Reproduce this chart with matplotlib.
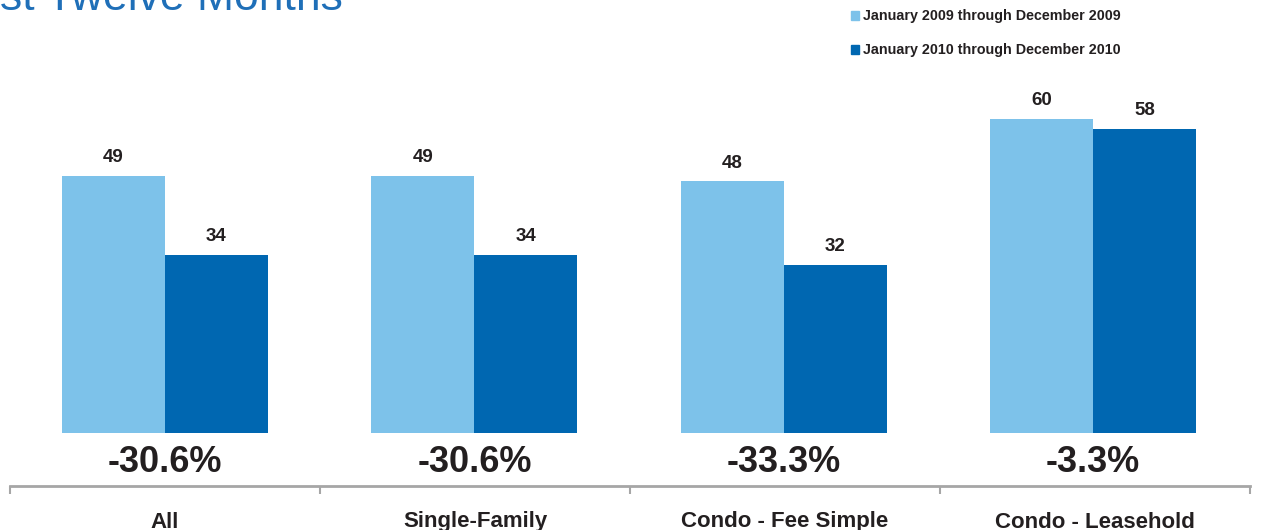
import matplotlib
matplotlib.use("Agg")
import matplotlib.pyplot as plt
from matplotlib.patches import Patch
from matplotlib import font_manager

categories = ["All", "Single-Family", "Condo - Fee Simple", "Condo - Leasehold"]
series_names = ["January 2009 through December 2009", "January 2010 through December 2010"]
values_2009 = [49, 49, 48, 60]
values_2010 = [34, 34, 32, 58]
pct_change = ["-30.6%", "-30.6%", "-33.3%", "-3.3%"]
title_text = "st Twelve Months"

light = "#7DC2EA"
dark = "#0067B1"
txt = "#231F20"
grey = "#A6A6A6"

names = {f.name for f in font_manager.fontManager.ttflist}
narrow = "Liberation Sans Narrow" if "Liberation Sans Narrow" in names else "Liberation Sans"
regular = "Liberation Sans"

W, H = 1261, 530
fig = plt.figure(figsize=(W / 100, H / 100), dpi=100)
ax = fig.add_axes([10 / W, 0, 1240 / W, 1])
pxu = 5.24
base_px = 97
ax.set_xlim(0, 4)
ax.set_ylim(-base_px / pxu, (H - base_px) / pxu)

def py(px_from_top):
    return ((H - px_from_top) - base_px) / pxu

bw = 0.332
xs = [i * 0.998 + 0.5 for i in range(len(categories))]
ax.bar([x - bw / 2 for x in xs], values_2009, width=bw, color=light, label=series_names[0])
ax.bar([x + bw / 2 for x in xs], values_2010, width=bw, color=dark, label=series_names[1])

for x, v in zip(xs, values_2009):
    ax.text(x - bw / 2, v + 1.9, f"{v}", ha="center", va="bottom", fontsize=13.5,
            fontweight="bold", color=txt, family=regular)
for x, v in zip(xs, values_2010):
    ax.text(x + bw / 2, v + 1.9, f"{v}", ha="center", va="bottom", fontsize=13.5,
            fontweight="bold", color=txt, family=regular)

for x, p in zip(xs, pct_change):
    ax.text(x, py(463), p, ha="center", va="center", fontsize=26,
            fontweight="bold", color=txt, family=narrow)
cat_x = [i + 0.5 for i in range(len(categories))]
for x, c in zip(cat_x, categories):
    ax.text(x, py(522), c, ha="center", va="center", fontsize=16,
            fontweight="bold", color=txt, family=narrow)

for s in ["top", "right", "left"]:
    ax.spines[s].set_visible(False)
ax.spines["bottom"].set_position(("data", py(486)))
ax.spines["bottom"].set_color(grey)
ax.spines["bottom"].set_linewidth(2)
ax.set_xticks(range(len(categories) + 1))
ax.set_xticklabels([])
ax.tick_params(axis="x", length=6, width=1.5, color=grey, direction="out")
ax.set_yticks([])
ax.patch.set_alpha(0)

fig.text(343 / W, 1 - 10 / H, title_text, ha="right", va="baseline", fontsize=32,
         color="#1F6FB8", family=regular)

handles = [Patch(color=light), Patch(color=dark)]
leg = fig.legend(handles, series_names, loc="upper left",
                 bbox_to_anchor=(847 / W, 1 - 5 / H), frameon=False,
                 prop={"family": regular, "weight": "bold", "size": 10.3},
                 handlelength=0.55, handleheight=0.55, handletextpad=0.25,
                 labelspacing=1.4, borderaxespad=0, borderpad=0.3)
for t in leg.get_texts():
    t.set_color(txt)

fig.savefig("out.png", dpi=100)
